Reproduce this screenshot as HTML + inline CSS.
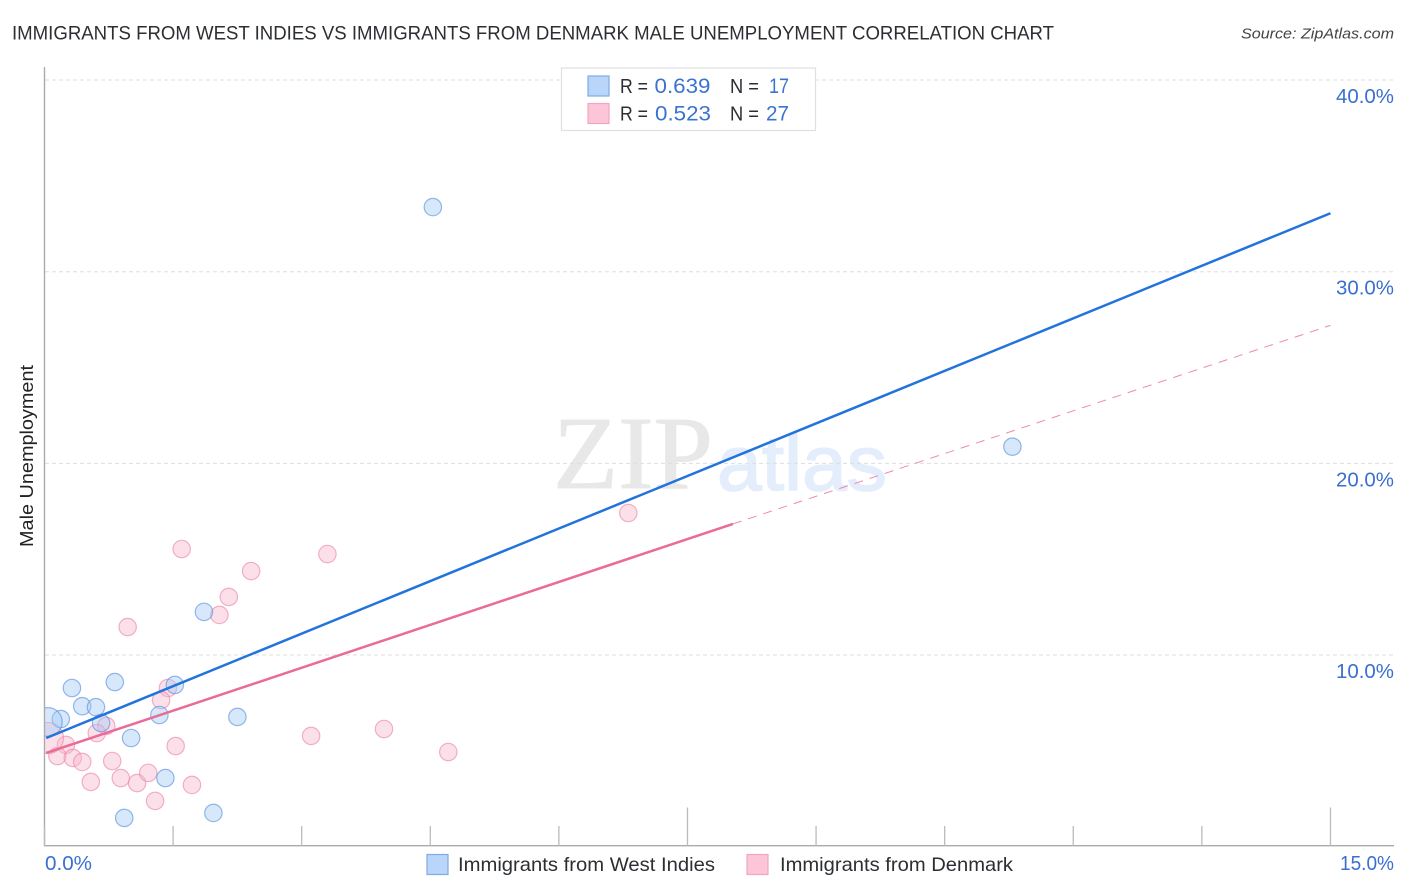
<!DOCTYPE html>
<html lang="en">
<head>
<meta charset="utf-8">
<title>Immigrants from West Indies vs Immigrants from Denmark Male Unemployment Correlation Chart</title>
<style>
html,body{margin:0;padding:0;background:#fff;width:1406px;height:892px;overflow:hidden}
svg{display:block;font-family:"Liberation Sans",sans-serif}
</style>
</head>
<body>
<svg id="chart" xmlns="http://www.w3.org/2000/svg" width="1406" height="892" viewBox="0 0 1406 892">
<defs><clipPath id="plot-clip"><rect x="45" y="60" width="1349" height="786"/></clipPath></defs>
<text x="12" y="39.5" font-size="19.5" fill="#2b2f33" textLength="1042" lengthAdjust="spacingAndGlyphs">IMMIGRANTS FROM WEST INDIES VS IMMIGRANTS FROM DENMARK MALE UNEMPLOYMENT CORRELATION CHART</text>
<text x="1394" y="38.5" font-size="15" font-style="italic" fill="#444" text-anchor="end" textLength="153" lengthAdjust="spacingAndGlyphs">Source: ZipAtlas.com</text>
<g>
<text x="553" y="488" font-family="'Liberation Serif',serif" font-size="104" fill="#e8e8e8" stroke="#e8e8e8" stroke-width="1" textLength="160" lengthAdjust="spacingAndGlyphs">ZIP</text>
<text x="717" y="490" font-size="78" fill="#e3edfb" stroke="#e3edfb" stroke-width="1.5" textLength="170" lengthAdjust="spacingAndGlyphs">atlas</text>
</g>
<g id="grid"></g>
<g id="axes"></g>
<g id="points" clip-path="url(#plot-clip)"></g>
<g id="trends"></g>
<g id="labels"></g>
<text transform="translate(33,456) rotate(-90)" font-size="18.5" fill="#222" text-anchor="middle" textLength="182" lengthAdjust="spacingAndGlyphs">Male Unemployment</text>

<g>
<rect x="561.5" y="68" width="254" height="62.5" fill="#fff" stroke="#e0e0e0" stroke-width="1.2"/>
<rect x="588" y="76" width="21" height="20" fill="#b9d5f9" stroke="#7fabe4" stroke-width="1.2"/>
<rect x="588" y="103.5" width="21" height="20" fill="#fcc5d8" stroke="#f2a5c0" stroke-width="1.2"/>
<g font-size="20">
<text x="620" y="93" fill="#2b2f33" textLength="28" lengthAdjust="spacingAndGlyphs">R =</text>
<text x="654.5" y="93" font-size="21" fill="#3a74cf" textLength="56" lengthAdjust="spacingAndGlyphs">0.639</text>
<text x="730" y="93" fill="#2b2f33" textLength="29" lengthAdjust="spacingAndGlyphs">N =</text>
<text x="769" y="93" font-size="21" fill="#3a74cf" textLength="20" lengthAdjust="spacingAndGlyphs">17</text>
<text x="620" y="120.5" fill="#2b2f33" textLength="28" lengthAdjust="spacingAndGlyphs">R =</text>
<text x="655" y="120.5" font-size="21" fill="#3a74cf" textLength="56" lengthAdjust="spacingAndGlyphs">0.523</text>
<text x="730" y="120.5" fill="#2b2f33" textLength="29" lengthAdjust="spacingAndGlyphs">N =</text>
<text x="766" y="120.5" font-size="21" fill="#3a74cf" textLength="23" lengthAdjust="spacingAndGlyphs">27</text>
</g>
</g>

<g>
<rect x="427" y="854.5" width="21" height="20" fill="#b9d5f9" stroke="#7fabe4" stroke-width="1.2"/>
<text x="458" y="871" font-size="19.5" fill="#2b2f33" textLength="257" lengthAdjust="spacingAndGlyphs">Immigrants from West Indies</text>
<rect x="747" y="854.5" width="21" height="20" fill="#fcc5d8" stroke="#f2a5c0" stroke-width="1.2"/>
<text x="780" y="871" font-size="19.5" fill="#2b2f33" textLength="233" lengthAdjust="spacingAndGlyphs">Immigrants from Denmark</text>
</g>
</svg>
<script>
// Data (x = % of immigrants, y = male unemployment %)
const xTicks = [0, 1.5, 3, 4.5, 6, 7.5, 9, 10.5, 12, 13.5, 15];
const xMajorTicks = [7.5, 15];
const yTicks = [10, 20, 30, 40];
const yTickLabels = ['10.0%', '20.0%', '30.0%', '40.0%'];
const xTickLabels = ['0.0%', '15.0%'];

const westIndiesX = [4.53, 11.29, 1.86, 0.82, 0.32, 1.52, 0.44, 0.60, 0.66, 1.34, 2.25, 1.01, 1.41, 1.97, 0.93, 0.19, 0.04];
const westIndiesY = [33.37, 20.87, 12.25, 8.59, 8.28, 8.44, 7.33, 7.28, 6.45, 6.87, 6.77, 5.67, 3.58, 1.76, 1.50, 6.66, 6.51];
const westIndiesWeight = [1, 1, 1, 1, 1, 1, 1, 1, 1, 1, 1, 1, 1, 1, 1, 1, 2.7];

const denmarkX = [6.81, 1.60, 3.30, 2.41, 2.15, 2.04, 0.97, 1.44, 1.36, 0.72, 0.61, 3.11, 3.96, 1.53, 4.71, 0.25, 0.15, 0.33, 0.44, 0.79, 0.54, 0.89, 1.08, 1.21, 1.72, 1.29, 0.04];
const denmarkY = [17.41, 15.53, 15.27, 14.38, 13.03, 12.09, 11.46, 8.28, 7.65, 6.30, 5.93, 5.78, 6.14, 5.25, 4.94, 5.31, 4.73, 4.63, 4.42, 4.47, 3.38, 3.58, 3.32, 3.85, 3.22, 2.39, 5.67];
const denmarkWeight = [1, 1, 1, 1, 1, 1, 1, 1, 1, 1, 1, 1, 1, 1, 1, 1, 1, 1, 1, 1, 1, 1, 1, 1, 1, 1, 3.2];

const westIndiesTrendX = [0.02, 15];
const westIndiesTrendY = [5.67, 33.05];
const denmarkTrendX = [0.02, 8.03];
const denmarkTrendY = [4.89, 16.84];
const denmarkExtensionX = [8.03, 15];
const denmarkExtensionY = [16.84, 27.2];

const NS = 'http://www.w3.org/2000/svg';
function sx(v) { return 44.5 + v * 85.73; }
function sy(v) { return 846.7 - v * 19.167; }
function sr(w) { return 8.7 * Math.sqrt(w); }
function make(parent, tag, attrs) {
  const el = document.createElementNS(NS, tag);
  for (const k in attrs) el.setAttribute(k, attrs[k]);
  parent.appendChild(el);
  return el;
}
const grid = document.getElementById('grid');
const axes = document.getElementById('axes');
const points = document.getElementById('points');
const trends = document.getElementById('trends');
const labels = document.getElementById('labels');

yTicks.forEach(function (t) {
  const el = make(grid, 'line', { x1: 45, x2: 1394, y1: sy(t), y2: sy(t), stroke: '#dedede', 'stroke-width': 1, 'stroke-dasharray': '4 3' });
  
  
});

const yAxis = make(axes, 'line', { x1: 44.5, x2: 44.5, y1: 67, y2: 846, stroke: '#aaa', 'stroke-width': 1.4 });


const xAxis = make(axes, 'line', { x1: 44, x2: 1394, y1: 845.7, y2: 845.7, stroke: '#aaa', 'stroke-width': 1.4 });


xTicks.forEach(function (t) {
  const top = xMajorTicks.indexOf(t) >= 0 ? 807.5 : 826;
  const el = make(axes, 'line', { x1: sx(t), x2: sx(t), y1: top, y2: 845.7, stroke: '#bbb', 'stroke-width': 1.3 });
  
  
});

function drawSeries(xs, ys, ws, fill, stroke, name) {
  xs.forEach(function (x, i) {
    const c = make(points, 'circle', { cx: sx(x), cy: sy(ys[i]), r: sr(ws[i]), fill: fill, 'fill-opacity': 0.42, stroke: stroke, 'stroke-opacity': 0.65, 'stroke-width': 1.2 });
    
    
  });
}
drawSeries(denmarkX, denmarkY, denmarkWeight, '#f9b4ca', '#e98aa9', 'point-denmark');
drawSeries(westIndiesX, westIndiesY, westIndiesWeight, '#a3c7f5', '#5c93e0', 'point-west-indies');

const blueTrend = make(trends, 'line', { x1: sx(westIndiesTrendX[0]), y1: sy(westIndiesTrendY[0]), x2: sx(westIndiesTrendX[1]), y2: sy(westIndiesTrendY[1]), stroke: '#2273dc', 'stroke-width': 2.5 });


const pinkTrend = make(trends, 'line', { x1: sx(denmarkTrendX[0]), y1: sy(denmarkTrendY[0]), x2: sx(denmarkTrendX[1]), y2: sy(denmarkTrendY[1]), stroke: '#ea6b97', 'stroke-width': 2.5 });


const pinkExt = make(trends, 'line', { x1: sx(denmarkExtensionX[0]), y1: sy(denmarkExtensionY[0]), x2: sx(denmarkExtensionX[1]), y2: sy(denmarkExtensionY[1]), stroke: '#ea8bab', 'stroke-width': 1, 'stroke-dasharray': '9 7' });



yTicks.forEach(function (t, i) {
  const el = make(labels, 'text', { x: 1394, y: sy(t) + 23, 'font-size': 20, fill: '#3a6fd0', 'text-anchor': 'end', textLength: 58, lengthAdjust: 'spacingAndGlyphs' });
  el.textContent = yTickLabels[i];
  
  
});
const x0Label = make(labels, 'text', { x: 45, y: 870, 'font-size': 20, fill: '#3a6fd0', textLength: 47, lengthAdjust: 'spacingAndGlyphs' });
x0Label.textContent = xTickLabels[0];


const x1Label = make(labels, 'text', { x: 1394, y: 870, 'font-size': 20, fill: '#3a6fd0', 'text-anchor': 'end', textLength: 54, lengthAdjust: 'spacingAndGlyphs' });
x1Label.textContent = xTickLabels[1];


</script>
</body>
</html>
